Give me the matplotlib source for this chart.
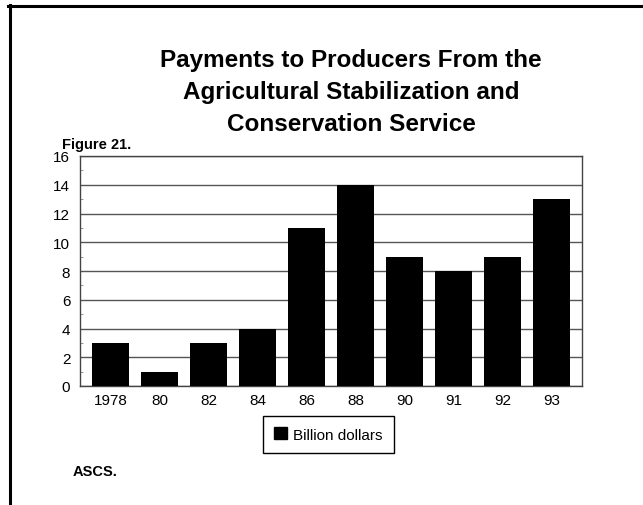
"""Payments to producers from ASCS, bar chart."""
import matplotlib
matplotlib.use("Agg")
import matplotlib.pyplot as plt
from matplotlib.lines import Line2D
from matplotlib.patches import Patch
from matplotlib.ticker import MultipleLocator

plt.rcParams["font.family"] = ["Liberation Sans", "DejaVu Sans"]

years = ["1978", "80", "82", "84", "86", "88", "90", "91", "92", "93"]
payments = [3, 1, 3, 4, 11, 14, 9, 8, 9, 13]  # billion dollars

fig = plt.figure(figsize=(6.43, 5.06), dpi=100)
ax = fig.add_axes([80 / 643, 1 - 387 / 506, 502 / 643, 230 / 506])

x = range(len(years))
ax.bar(x, payments, width=0.76, color="black", zorder=3)
ax.set_xlim(-0.622, len(years) - 1 + 0.622)
ax.set_ylim(0, 16)
ax.set_xticks(list(x))
ax.set_xticklabels(years, fontsize=11)
ax.yaxis.set_major_locator(MultipleLocator(2))
ax.yaxis.set_minor_locator(MultipleLocator(1))
ax.tick_params(axis="y", which="major", length=0, labelsize=11, pad=7)
ax.tick_params(axis="y", which="minor", length=2, direction="in", color="#888888")
ax.tick_params(axis="x", length=0, pad=5)
ax.grid(axis="y", which="major", color="#555555", lw=1, zorder=1)
for s in ax.spines.values():
    s.set_color("#444444")
    s.set_linewidth(1)

fig.text(351 / 643, 1 - 49 / 506,
         "Payments to Producers From the\nAgricultural Stabilization and\nConservation Service",
         ha="center", va="top", fontsize=17.5, fontweight="bold", linespacing=1.5)
fig.text(62 / 643, 1 - 145 / 506, "Figure 21.", ha="left", va="center",
         fontsize=10.5, fontweight="bold")
fig.text(73 / 643, 1 - 472 / 506, "ASCS.", ha="left", va="center",
         fontsize=10.5, fontweight="bold")

leg = fig.legend(handles=[Patch(color="black", label="Billion dollars")],
                 loc="center", bbox_to_anchor=(328.5 / 643, 1 - 435.5 / 506),
                 fontsize=11, fancybox=False, edgecolor="black",
                 handlelength=0.85, handleheight=0.85, handletextpad=0.4,
                 borderpad=0.75, framealpha=1)
leg.get_frame().set_linewidth(1)

# page frame (top and left edges only)
fig.add_artist(Line2D([8 / 643, 1], [1 - 7 / 506] * 2, color="black", lw=2.2))
fig.add_artist(Line2D([9.5 / 643] * 2, [0, 1 - 6 / 506], color="black", lw=2.2))

fig.savefig("out.png", dpi=100)
